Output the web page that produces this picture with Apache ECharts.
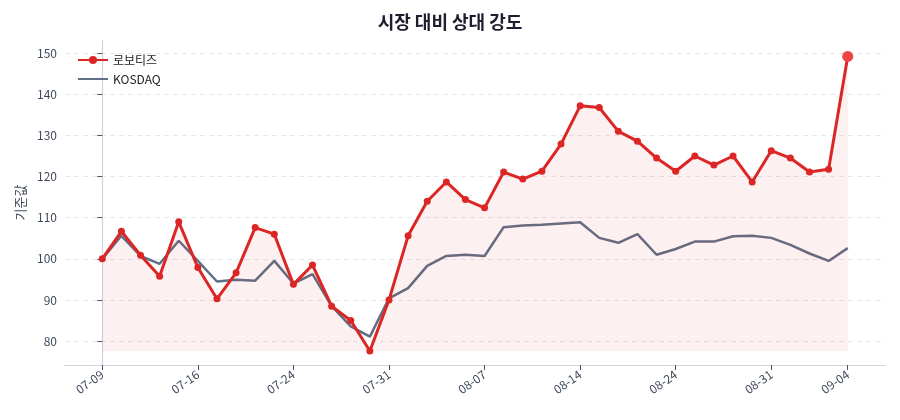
<!DOCTYPE html>
<html>
<head>
<meta charset="utf-8">
<script src="https://cdn.jsdelivr.net/npm/echarts@6/dist/echarts.min.js"></script>
<style>
  html, body { margin: 0; padding: 0; background: #fff; }
  #chart { width: 900px; height: 420px; }
</style>
</head>
<body>
<div id="chart"></div>
<script>
var dates = ["07-09","07-10","07-11","07-14","07-15","07-16","07-17","07-18","07-21","07-22",
             "07-24","07-25","07-28","07-29","07-30","07-31","08-01","08-04","08-05","08-06",
             "08-07","08-08","08-11","08-12","08-13","08-14","08-18","08-19","08-20","08-21",
             "08-24","08-25","08-26","08-27","08-28","08-31","09-01","09-02","09-03","09-04"];

var robotis = [100, 106.7, 100.9, 95.8, 109.0, 97.9, 90.3, 96.6, 107.6, 106.0,
               93.8, 98.5, 88.5, 85.0, 77.6, 90.0, 105.6, 114.0, 118.7, 114.4,
               112.4, 121.1, 119.4, 121.3, 127.9, 137.2, 136.8, 131.0, 128.6, 124.5,
               121.3, 125.0, 122.8, 125.0, 118.7, 126.3, 124.5, 121.1, 121.8, 149.2];

var kosdaq = [100, 105.6, 100.7, 98.8, 104.4, 99.5, 94.5, 94.9, 94.7, 99.5,
              94.0, 96.3, 88.5, 83.6, 81.1, 90.4, 92.9, 98.3, 100.7, 101.0,
              100.7, 107.7, 108.1, 108.3, 108.6, 108.9, 105.1, 103.9, 106.0, 101.0,
              102.4, 104.2, 104.2, 105.5, 105.6, 105.1, 103.4, 101.3, 99.5, 102.6];

var xTickIdx = [0, 5, 10, 15, 20, 25, 30, 35, 39];
var yTicks = [80, 90, 100, 110, 120, 130, 140, 150];

var chart = echarts.init(document.getElementById('chart'));
var font = '"Noto Sans CJK KR", "Noto Sans", sans-serif';
var lastIdx = robotis.length - 1;

var option = {
    backgroundColor: '#ffffff',
    textStyle: { fontFamily: font },
    title: {
        text: '시장 대비 상대 강도',
        left: 'center',
        top: 8,
        textStyle: { fontSize: 18, fontWeight: 'bold', color: '#1e1e2e', fontFamily: font }
    },
    legend: {
        orient: 'vertical',
        left: 72,
        top: 49,
        itemWidth: 30,
        itemHeight: 10,
        itemGap: 7,
        textStyle: { fontSize: 12, color: '#222', fontFamily: font },
        data: ['로보티즈', { name: 'KOSDAQ', itemStyle: { opacity: 0 } }]
    },
    grid: { left: 65, right: 15, top: 40, bottom: 55 },
    xAxis: {
        type: 'value',
        min: -1.95,
        max: 40.95,
        axisLine: { show: true, lineStyle: { color: '#d0d4dc', width: 1.2 } },
        axisTick: { show: true, customValues: xTickIdx, length: 5, lineStyle: { color: '#4a5568' } },
        axisLabel: {
            customValues: xTickIdx,
            rotate: 35,
            fontSize: 12,
            color: '#3f4a5c',
            margin: 8,
            formatter: function (v) { return dates[Math.round(v)]; }
        },
        splitLine: { show: false }
    },
    yAxis: {
        type: 'value',
        name: '기준값',
        nameLocation: 'middle',
        nameGap: 38,
        nameTextStyle: { fontSize: 13, color: '#3f4a5c', fontFamily: font },
        min: 74.2,
        max: 153.2,
        axisLine: { show: true, lineStyle: { color: '#d0d4dc', width: 1.2 } },
        axisTick: { show: true, customValues: yTicks, length: 5, lineStyle: { color: '#4a5568' } },
        axisLabel: { customValues: yTicks, fontSize: 12, color: '#3f4a5c', margin: 8 },
        splitLine: { show: true, lineStyle: { color: '#e5e7eb', type: [5, 4], width: 1 } }
    },
    series: [
        {
            name: '로보티즈',
            type: 'line',
            z: 3,
            symbol: 'circle',
            symbolSize: 7,
            lineStyle: { color: '#dc2626', width: 3 },
            itemStyle: { color: '#dc2626' },
            areaStyle: { color: 'rgba(220,38,38,0.1)', origin: Math.min.apply(null, robotis) },
            data: robotis.map(function (v, i) {
                if (i === lastIdx) {
                    return { value: [i, v], symbolSize: 11, itemStyle: { color: '#ef4444' } };
                }
                return [i, v];
            })
        },
        {
            name: 'KOSDAQ',
            type: 'line',
            z: 2,
            symbol: 'none',
            lineStyle: { color: '#5f6f86', width: 2.5 },
            itemStyle: { color: '#5f6f86' },
            data: kosdaq.map(function (v, i) { return [i, v]; })
        }
    ]
};

chart.setOption(option);
</script>
</body>
</html>
